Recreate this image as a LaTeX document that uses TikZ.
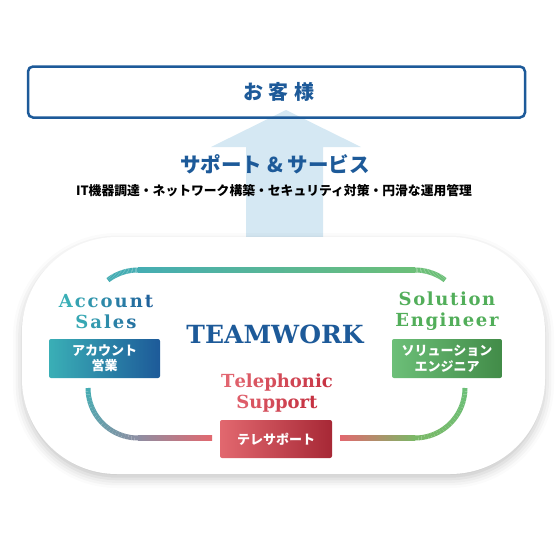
\documentclass[tikz,border=0pt]{standalone}
\usepackage{fontspec}
\setmainfont{DejaVu Serif}
\newfontfamily\jpfont{Noto Sans CJK JP}
\newfontfamily\jpwidefont{Noto Sans CJK JP}[LetterSpace=28]
\newfontfamily\slabfont{DejaVu Serif}
\newfontfamily\slabwidefont{DejaVu Serif}[LetterSpace=9]
\usetikzlibrary{calc}
\usetikzlibrary{shadows.blur}
\definecolor{custblue}{HTML}{1D5A99}
\definecolor{arrowblue}{HTML}{D5E8F3}
\definecolor{accteal}{HTML}{3AAFB6}
\definecolor{solgreen}{HTML}{52AE5A}
\definecolor{telred}{HTML}{C42F3F}
\definecolor{telpink}{HTML}{E26570}
\definecolor{trteal}{HTML}{45ADB3}
\definecolor{trgreen}{HTML}{6CBF78}
\definecolor{trslate}{HTML}{8E8EA2}
\definecolor{trpink}{HTML}{E2686F}
\definecolor{trolive}{HTML}{AE9466}
\definecolor{trlime}{HTML}{7AB866}
% one bent piece of the team loop, coloured from #5 to #6
\newcommand{\trackarc}[6]{%
  \foreach \s in {1,...,24} {
    \pgfmathsetmacro{\angA}{#3+(#4-#3)*(\s-1)/24}
    \pgfmathsetmacro{\angB}{#3+(#4-#3)*\s/24}
    \pgfmathtruncatemacro{\mixp}{100*(\s-0.5)/24}
    \draw[track, draw=#6!\mixp!#5] ({#1+50*cos(\angA)},{#2+50*sin(\angA)}) -- ({#1+50*cos(\angB)},{#2+50*sin(\angB)});
  }}
\newcommand{\acol}[2]{\textcolor{custblue!#1!accteal}{#2}\kern2pt}
\newcommand{\tcol}[2]{\textcolor{telred!#1!telpink}{#2}}

\begin{document}
\begin{tikzpicture}[x=1pt,y=-1pt]
  \tikzstyle{track} = [line width=5pt]
  \tikzstyle{tagbox} = [rounded corners=2pt, minimum width=111pt, minimum height=39pt, inner sep=0pt, text=white, align=center, font=\jpfont\bfseries\fontsize{13}{15.5}\selectfont]
  \tikzstyle{role} = [inner sep=0pt, align=center, font=\slabwidefont\bfseries\fontsize{18}{21}\selectfont]
  \useasboundingbox (0,0) rectangle (560,560);

  % big arrow up to the customer
  \fill[arrowblue] (246,240) -- (246,147) -- (211,147) -- (286,110) -- (361,147) -- (323,147) -- (323,240) -- cycle;
  \node[draw=custblue, line width=2.5pt, rounded corners=5pt, minimum width=497pt, minimum height=51pt] (customer) at (276.5,92) {};
  \node[text=custblue, font=\jpwidefont\bfseries\fontsize{20}{24}\selectfont] (customertext) at (279,92) {お客様};
  \node[text=custblue, font=\jpfont\bfseries\fontsize{20.5}{24}\selectfont] (service) at (275,164) {サポート \& サービス};
  \node[font=\jpfont\bfseries\fontsize{12.8}{15}\selectfont] (servicelist) at (274,191) {IT機器調達・ネットワーク構築・セキュリティ対策・円滑な運用管理};

  % team panel
  \fill[white, rounded corners=95pt, blur shadow={shadow xshift=0pt, shadow yshift=-5pt, shadow blur radius=9pt, shadow opacity=22}] (22,237) rectangle (545,474);

  % loop
  \trackarc{138}{320}{233}{270}{trteal}{trteal}
  \shade[left color=trteal, right color=trgreen] (138,267.5) rectangle (415,272.5);
  \trackarc{415}{320}{270}{307}{trgreen}{trgreen}
  \trackarc{415}{388}{90}{0}{trlime}{trgreen}
  \shade[left color=trpink, middle color=trolive, right color=trlime] (340,435.5) rectangle (415,440.5);
  \shade[left color=trslate, right color=trpink] (138,435.5) rectangle (212,440.5);
  \trackarc{138}{388}{180}{90}{trteal}{trslate}

  \node[text=custblue, font=\slabfont\bfseries\fontsize{25}{30}\selectfont] (teamwork) at (275,334) {TEAMWORK};

  \node[role, font=\slabfont\bfseries\fontsize{18}{21}\selectfont] (account) at (107,312) {\acol{0}{A}\acol{15}{c}\acol{30}{c}\acol{45}{o}\acol{60}{u}\acol{75}{n}\acol{90}{t}\\\acol{10}{S}\acol{25}{a}\acol{40}{l}\acol{55}{e}\acol{70}{s}};
  \node[tagbox, left color=accteal, right color=custblue] (accountbox) at (104.5,358.5) {アカウント\\営業};

  \node[role, text=solgreen] (solution) at (447,311) {Solution\\Engineer};
  \node[tagbox, minimum width=110pt, left color=trgreen, right color=solgreen!80!black] (solutionbox) at (447,358.5) {ソリューション\\エンジニア};

  \node[role, font=\slabfont\bfseries\fontsize{18}{21}\selectfont] (telephonic) at (277,393.5) {\tcol{0}{T}\tcol{10}{e}\tcol{20}{l}\tcol{30}{e}\tcol{40}{p}\tcol{50}{h}\tcol{60}{o}\tcol{70}{n}\tcol{80}{i}\tcol{90}{c}\\\tcol{15}{S}\tcol{30}{u}\tcol{45}{p}\tcol{60}{p}\tcol{75}{o}\tcol{85}{r}\tcol{95}{t}};
  \node[tagbox, minimum width=112pt, minimum height=38pt, left color=trpink, right color=telred!85!black] (telbox) at (276,439) {テレサポート};
\end{tikzpicture}
\end{document}
